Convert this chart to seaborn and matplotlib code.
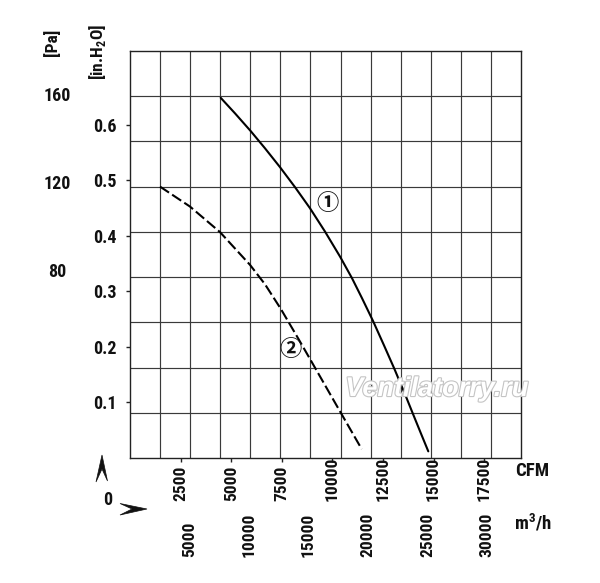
import numpy as np
import pandas as pd
import matplotlib
matplotlib.use("Agg")
import matplotlib.pyplot as plt
import seaborn as sns
from matplotlib import patheffects as pe
from matplotlib.patches import Polygon
from matplotlib import font_manager

# ---------------- data ----------------
curve1_cfm = [4481, 5188, 5964, 6670, 7412, 8153, 8894, 9635, 10376, 10969, 11463, 12007,
              12550, 13059, 13588, 13998, 14378, 14739]
curve1_inh2o = [0.649, 0.621, 0.589, 0.558, 0.524, 0.488, 0.450, 0.408, 0.363, 0.324, 0.288,
                0.247, 0.203, 0.161, 0.115, 0.078, 0.044, 0.012]
curve2_cfm = [1482, 2965, 4447, 5929, 6670, 7446, 8365, 9388, 10376, 11449]
curve2_inh2o = [0.489, 0.453, 0.407, 0.348, 0.313, 0.269, 0.212, 0.147, 0.084, 0.016]

cfm_ticks = [2500, 5000, 7500, 10000, 12500, 15000, 17500]
m3h_ticks = [5000, 10000, 15000, 20000, 25000, 30000]
inh2o_ticks = [0.1, 0.2, 0.3, 0.4, 0.5, 0.6]
inh2o_labels = ["0.1", "0.2", "0.3", "0.4", "0.5", "0.6"]
pa_ticks = [80, 120, 160]
curve_names = ["\u2460", "\u2461"]

X_MAX = 19320
Y_MAX = 0.7333
N_XGRID = 13
N_YGRID = 9
M3H_PER_CFM = 1.7

# ---------------- style ----------------
sns.set_theme(style="white")
names = {f.name for f in font_manager.fontManager.ttflist}
narrow = "Liberation Sans"
for cand in ["Liberation Sans Narrow", "Arial Narrow", "Roboto Condensed", "PT Sans Narrow",
             "Archivo Narrow", "Asap Condensed", "Barlow Condensed"]:
    if cand in names:
        narrow = cand
        break
plt.rcParams["font.family"] = [narrow, "DejaVu Sans", "Noto Sans CJK JP"]
plt.rcParams["font.weight"] = "bold"
plt.rcParams["mathtext.fontset"] = "custom"
plt.rcParams["mathtext.rm"] = narrow + ":bold"
FS = 13
TXT = "#111111"

df1 = pd.DataFrame({"cfm": curve1_cfm, "p": curve1_inh2o})
df2 = pd.DataFrame({"cfm": curve2_cfm, "p": curve2_inh2o})

W, H = 600, 583
fig = plt.figure(figsize=(W / 100, H / 100), dpi=100)
ax = fig.add_axes([130 / W, 1 - 458 / H, (521 - 130) / W, (458 - 51) / H])

sns.lineplot(data=df1, x="cfm", y="p", ax=ax, color="#000000", lw=1.5, sort=False)
sns.lineplot(data=df2, x="cfm", y="p", ax=ax, color="#000000", lw=1.5, sort=False)
ax.lines[-1].set_dashes([5.2, 1.8])

ax.set_xlim(0, X_MAX)
ax.set_ylim(0, Y_MAX)
ax.set_xlabel("")
ax.set_ylabel("")

# grid (independent divisions)
ax.set_xticks(np.linspace(0, X_MAX, N_XGRID + 1)[1:-1], minor=True)
ax.set_yticks(np.linspace(0, Y_MAX, N_YGRID + 1)[1:-1], minor=True)
ax.grid(which="minor", color="#3a3a3a", lw=0.85)
ax.grid(which="major", visible=False)
for s in ax.spines.values():
    s.set_visible(True)
    s.set_color("#222222")
    s.set_linewidth(1.0)

ax.set_xticks(cfm_ticks)
ax.set_xticklabels([str(v) for v in cfm_ticks])
ax.set_yticks(inh2o_ticks)
ax.set_yticklabels(inh2o_labels)
ax.tick_params(which="minor", length=0)
ax.tick_params(axis="x", which="major", direction="out", length=3, width=1.0, color="#222222",
               bottom=True, pad=28, labelsize=FS - 0.5, labelcolor=TXT)
ax.tick_params(axis="y", which="major", direction="out", length=3, width=1.0, color="#222222",
               left=True, pad=6.5, labelsize=FS, labelcolor=TXT)
for lab in ax.get_xticklabels():
    lab.set_rotation(90)
    lab.set_rotation_mode("anchor")
    lab.set_ha("left")
    lab.set_va("center")

# m3/h secondary axis
sec = ax.secondary_xaxis("bottom", functions=(lambda c: c * M3H_PER_CFM, lambda m: m / M3H_PER_CFM))
sec.set_xticks(m3h_ticks)
sec.set_xticklabels([str(v) for v in m3h_ticks])
sec.spines["bottom"].set_visible(False)
sec.tick_params(axis="x", length=0, pad=71, labelsize=FS - 0.5, labelcolor=TXT)
for lab in sec.get_xticklabels():
    lab.set_rotation(90)
    lab.set_rotation_mode("anchor")
    lab.set_ha("left")
    lab.set_va("center")

# Pa secondary axis (labels only)
secy = ax.secondary_yaxis((57 - 130) / (521 - 130),
                          functions=(lambda y: (y - 0.0216) * 252.3, lambda p: p / 252.3 + 0.0216))
secy.set_yticks(pa_ticks)
secy.set_yticklabels([str(v) for v in pa_ticks])
secy.spines["left"].set_visible(False)
secy.tick_params(axis="y", length=0, pad=0, labelsize=FS, labelcolor=TXT)
for lab in secy.get_yticklabels():
    lab.set_ha("center")

# curve labels
for xv, yv, nm in [(9783, 0.459, curve_names[0]), (7906, 0.196, curve_names[1])]:
    ax.text(xv, yv, nm, fontsize=16, ha="center", va="center", color=TXT, weight="bold",
            family=["Noto Sans CJK JP", "DejaVu Sans"])


def P(x, y):
    return (x / W, 1 - y / H)


# unit labels
fig.text(*P(52, 42), "[Pa]", rotation=90, ha="center", va="center", fontsize=FS - 0.5, color=TXT)
fig.text(*P(98, 52), r"[in.H$_\mathregular{2}$O]", rotation=90, ha="center", va="center",
         fontsize=FS - 0.5, color=TXT)
fig.text(*P(532, 471), "CFM", ha="center", va="center", fontsize=FS + 0.5, color=TXT)
fig.text(*P(533, 523), r"m$^\mathregular{3}$/h", ha="center", va="center", fontsize=FS + 0.5, color=TXT)
fig.text(*P(108, 500), "0", ha="center", va="center", fontsize=FS, color=TXT)

# arrow heads
up = Polygon([P(102, 455), P(96, 482), P(102, 469), P(107.5, 481)], closed=True,
             transform=fig.transFigure, facecolor="#111111", edgecolor="#111111", lw=0.5)
right = Polygon([P(147, 509), P(120, 503.5), P(132, 509), P(120, 515)], closed=True,
                transform=fig.transFigure, facecolor="#111111", edgecolor="#111111", lw=0.5)
fig.patches.extend([up, right])

# watermark
fig.text(*P(437, 389), "Ventilatorry.ru", ha="center", va="center", fontsize=19.5,
         family="Liberation Sans", style="italic", weight="bold", color="#ffffff",
         path_effects=[pe.withStroke(linewidth=1.6, foreground="#c4c4c4")], zorder=10)

fig.savefig("out.png", dpi=100, facecolor="white")
